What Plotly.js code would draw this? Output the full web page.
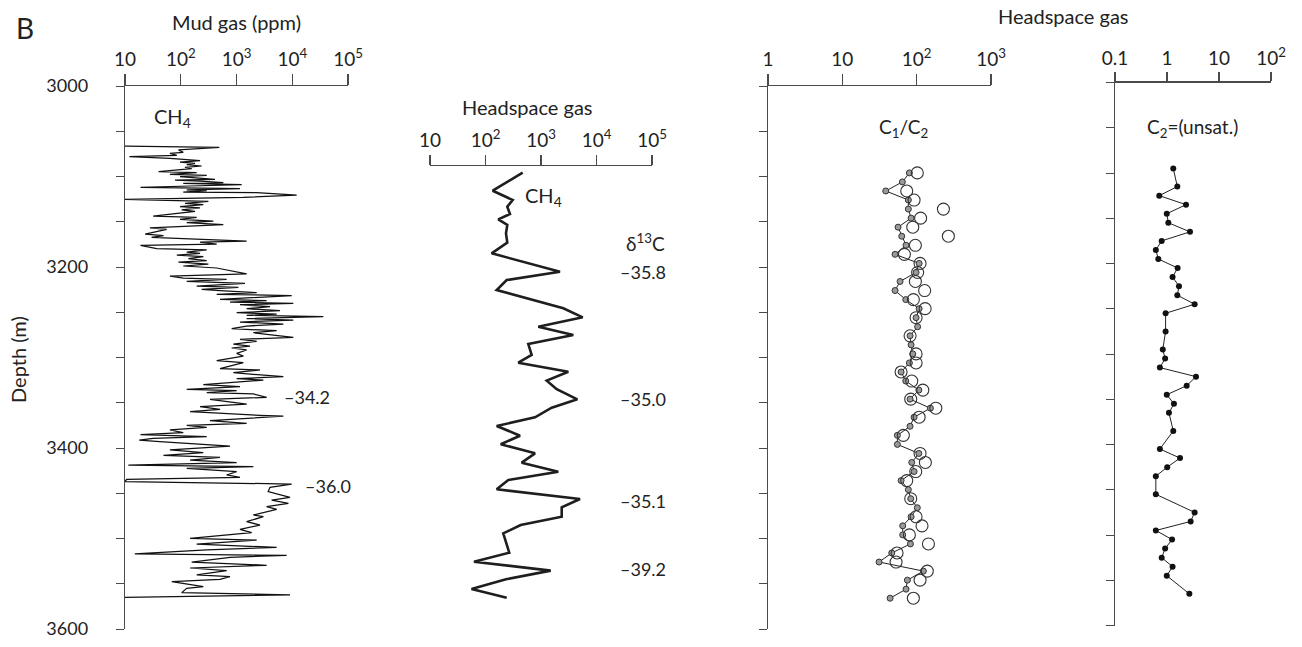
<!DOCTYPE html>
<html>
<head>
<meta charset="utf-8">
<script src="https://cdn.plot.ly/plotly-3.0.1.min.js"></script>
<style>html,body{margin:0;padding:0;background:#fff;}#chart{width:1302px;height:647px;}</style>
</head>
<body>
<div id="chart"></div>
<script>
// ---- Mud gas CH4 (ppm) vs depth (m) ----
const mudDepth = [3066.3,3067.8,3070.7,3073.3,3074.4,3076.6,3078.1,3079.9,3082.5,3084.0,3085.5,3086.9,3088.4,3089.9,3091.4,3094.7,3095.8,3097.6,3098.7,3100.2,3103.2,3103.9,3105.0,3106.8,3107.6,3109.1,3110.5,3112.0,3113.5,3114.9,3115.7,3117.2,3117.9,3120.5,3123.0,3125.3,
  3127.5,3129.7,3131.1,3133.4,3134.8,3137.0,3138.5,3140.0,3143.7,3145.1,3147.4,3149.2,3151.0,3153.2,3156.9,3158.4,3159.9,3163.6,3165.4,3167.2,3168.7,3171.3,3172.4,3174.6,3176.1,3179.8,3181.2,
  3183.5,3184.9,3186.8,3188.6,3190.8,3193.0,3194.5,3196.7,3198.9,3201.1,3204.1,3207.7,3210.0,3212.2,3213.6,3215.9,3218.1,3221.0,3222.5,3224.7,3226.2,3228.4,3230.2,
  3231.5,3235.7,3237.2,3238.7,3240.2,3241.6,3243.9,3246.1,3248.3,3250.5,3252.0,3253.4,3254.9,3257.1,3258.6,3260.8,3263.0,3265.2,3268.2,3270.4,3272.6,3275.2,3277.7,3279.9,3282.1,3285.1,3287.3,3289.5,3291.7,3295.4,
  3298.4,3303.5,3305.7,3312.4,3313.8,3316.8,3321.2,3323.4,3324.9,3330.0,3332.2,3335.2,3336.7,3338.9,3340.3,3344.0,3346.2,
  3351.4,3354.3,3357.3,3359.9,3363.9,3364.7,3369.8,3372.8,3375.0,3377.2,3380.1,3383.1,3385.3,3387.5,3389.3,3391.2,3393.0,3397.8,3402.2,3405.2,3408.1,3410.3,3413.3,3416.2,3418.8,3420.6,3422.5,3426.2,3429.8,3432.4,3434.6,3437.2,
  3439.8,3443.5,3448.2,3450.8,3454.5,3457.5,3461.1,3464.8,3467.8,3474.0,3475.9,3481.4,3485.1,3489.9,3493.6,3499.8,3501.7,3506.1,3509.8,3512.7,3517.1,3518.6,3520.8,3526.0,3529.6,3532.6,3535.5,3540.3,3542.2,3545.1,3547.7,3553.2,3555.1,3559.8,3562.4,3565.0];
const mudCH4 = [10,492,91,111,64,85,12,64,222,97,180,128,237,119,157,40,193,64,292,97,411,79,222,580,111,1239,147,19,1156,128,292,111,2300,12000,1327,9,
  313,119,254,97,222,104,180,111,32,193,97,384,128,580,28,56,42,23,49,30,111,1521,222,441,19,37,292,
  128,222,85,254,137,292,91,313,111,441,765,1521,64,111,666,128,1420,193,1079,237,506,2300,441,
  9770,506,3475,765,10450,1156,3990,1521,6030,1007,5260,1521,36100,1521,10450,1156,6920,1521,819,5260,2004,4580,10450,1156,2300,878,1746,819,1521,1007,
  1327,441,1327,506,2640,878,6920,1007,3030,254,1156,128,1007,292,2004,3475,335,
  1521,222,506,147,2640,6920,335,1521,128,292,64,111,19,292,32,18,42,765,64,254,49,506,147,1007,11.5,2004,128,1007,666,1156,10.7,10,
  9770,3990,3700,5260,9120,4270,8520,3475,5260,2004,3030,1521,2640,1156,1870,147,2300,193,5260,292,15,7940,765,157,3475,147,666,193,765,506,69,254,128,104,9120,10];

// ---- Headspace CH4 vs depth ----
const hsDepth = [3095.8,3115.7,3126.0,3133.4,3141.4,3147.3,3153.6,3162.8,3173.1,3184.9,3205.2,3214.4,3225.4,3245.6,3255.6,3266.0,3275.1,3285.1,3297.2,3305.7,3315.7,3325.6,3335.1,3346.2,3355.5,3366.1,3375.7,3386.4,3395.9,3405.9,3416.2,3426.2,3435.4,3445.6,3456.4,3465.5,3475.9,3485.1,3494.3,3515.7,3525.6,3535.5,3545.1,3555.8,3565.4];
const hsCH4 = [468,135,309,247,276,170,247,234,247,129,2198,241,159,2523,5640,893,3819,590,679,390,3105,1268,1920,4510,1560,780,159,419,188,780,449,2051,258,159,5050,2360,2360,430,209,268,62,1496,234,56,241];

// ---- Headspace C1/C2 ----
const ratioDepth = [3096,3106,3116,3126,3136,3146,3156,3166,3176,3186,3196,3206,3216,3226,3236,3246,3256,3266,3276,3286,3296,3306,3316,3326,3336,3346,3356,3366,3376,3386,3396,3406,3416,3426,3436,3446,3456,3466,3476,3486,3496,3506,3516,3526,3536,3546,3556,3566];
const c1c2Small = [79.8,64.2,38.4,77.3,77.3,84.1,56.2,63.0,72.0,51.2,108,98.2,59.8,51.2,71.3,108,98.2,103,81.5,84.1,88.6,79.8,61.7,71.3,107,81.5,153,92.3,81.5,55.0,55.0,107,85.9,92.3,61.7,77.3,83.2,102,84.1,64.9,64.9,82.4,46.2,31.2,123,75.0,72.0,43.9];
const c1c2Large = [102,null,73.5,92.3,229,113,88.6,267,96.1,68.4,111,103,96.1,128,90.3,130,98.2,null,81.5,null,98.2,98.2,61.7,85.9,121,83.2,181,108,null,66.2,null,111,131,97.2,73.5,null,83.2,null,98.2,118,79.8,144,54.5,52.8,139,111,null,90.3];

// ---- Headspace C2= (unsaturated) ----
const unsatDepth = [3095,3115,3125,3135,3145,3155,3165,3175,3185,3195,3205,3215,3225,3235,3245,3255,3275,3295,3305,3315,3325,3335,3345,3355,3365,3385,3405,3415,3425,3435,3455,3475,3485,3495,3505,3515,3525,3535,3545,3565];
const c2Unsat = [1.32,1.58,0.71,2.32,0.99,1.06,2.77,0.79,0.61,0.68,1.60,1.28,1.70,1.58,3.40,0.94,0.94,0.83,0.92,0.73,3.61,2.39,0.99,1.36,1.09,1.32,0.73,1.78,1.01,0.61,0.61,3.40,2.85,0.61,1.25,0.92,0.79,1.28,0.99,2.69];

// ---- Tick labels ----
const gasTickVals = [10,100,1000,10000,100000];
const gasTickText = ['10','10<sup>2</sup>','10<sup>3</sup>','10<sup>4</sup>','10<sup>5</sup>'];
const ratioTickVals = [1,10,100,1000];
const ratioTickText = ['1','10','10<sup>2</sup>','10<sup>3</sup>'];
const unsatTickVals = [0.1,1,10,100];
const unsatTickText = ['0.1','1','10','10<sup>2</sup>'];
const depthTickVals = [3000,3200,3400,3600];

// ---- δ13C labels ----
const mudD13C = [{v:'–34.2', depth:3343.6}, {v:'–36.0', depth:3441.5}];
const hsD13C = [{v:'–35.8', depth:3205.5}, {v:'–35.0', depth:3345.9}, {v:'–35.1', depth:3458.6}, {v:'–39.2', depth:3533.7}];

const W = 1302, H = 647;
const px = v => v / W;
const py = v => 1 - v / H;
const axCol = '#4a4a4a';
const txtCol = '#222';
const FONT = 'Lato, "Open Sans", sans-serif';

const depthDomain = [py(629), py(86)];
const xCommon = {side:'top', type:'log', showline:true, linecolor:axCol, linewidth:1.3, ticks:'outside',
  ticklen:11, tickcolor:axCol, tickwidth:1.3, showgrid:false, zeroline:false, fixedrange:true,
  tickfont:{size:19, color:txtCol, family:FONT}, ticklabelstandoff:0};
const yCommon = {range:[3600,3000], showline:true, linecolor:axCol, linewidth:1.3, showgrid:false, zeroline:false,
  ticks:'outside', ticklen:8, tickcolor:axCol, tickwidth:1, fixedrange:true};

const traces = [
  {x: mudCH4, y: mudDepth, xaxis:'x', yaxis:'y', mode:'lines', line:{color:'#111', width:1.25}, hoverinfo:'skip'},
  {x: hsCH4, y: hsDepth, xaxis:'x2', yaxis:'y2', mode:'lines', line:{color:'#1e1e1e', width:2.6}, hoverinfo:'skip'},
  {x: c1c2Small, y: ratioDepth, xaxis:'x3', yaxis:'y3', mode:'lines+markers', line:{color:'#222', width:1},
   marker:{size:6, color:'#9a9a9a', line:{color:'#333', width:1}}, hoverinfo:'skip'},
  {x: c1c2Large, y: ratioDepth, xaxis:'x3', yaxis:'y3', mode:'markers',
   marker:{size:12, symbol:'circle-open', color:'#333', line:{width:1.1}}, hoverinfo:'skip'},
  {x: c2Unsat, y: unsatDepth, xaxis:'x4', yaxis:'y4', mode:'lines+markers', line:{color:'#222', width:1},
   marker:{size:6, color:'#111'}, hoverinfo:'skip'}
];

function note(text, x, y, size, extra) {
  return Object.assign({text:text, x:px(x), y:py(y), xref:'paper', yref:'paper', xanchor:'center', yanchor:'middle',
    showarrow:false, font:{size:size, family:FONT, color:txtCol}}, extra || {});
}
const annotations = [
  note('B', 25, 28, 28),
  note('Mud gas (ppm)', 236, 22, 20),
  note('Headspace gas', 527, 107, 20),
  note('Headspace gas', 1063, 16, 20),
  note('Depth (m)', 18, 360, 20, {textangle:-90}),
  note('CH<sub>4</sub>', 172, 117, 20),
  note('CH<sub>4</sub>', 543, 196, 20),
  note('δ<sup>13</sup>C', 667, 242, 19, {xanchor:'right'}),
  note('C<sub>1</sub>/C<sub>2</sub>', 903, 128, 19),
  note('C<sub>2</sub>=(unsat.)', 1192, 128, 19)
];
mudD13C.forEach((d, i) => annotations.push({text:d.v, x:px(i === 0 ? 282 : 303), y:d.depth, xref:'paper', yref:'y',
  xanchor:'left', yanchor:'middle', showarrow:false, font:{size:18, family:FONT, color:txtCol}}));
hsD13C.forEach(d => annotations.push({text:d.v, x:px(668), y:d.depth, xref:'paper', yref:'y',
  xanchor:'right', yanchor:'middle', showarrow:false, font:{size:18, family:FONT, color:txtCol}}));

const layout = {
  width: W, height: H, margin:{l:0, r:0, t:0, b:0}, paper_bgcolor:'#fff', plot_bgcolor:'rgba(0,0,0,0)',
  showlegend:false, font:{family:FONT, size:18, color:txtCol},
  xaxis: Object.assign({}, xCommon, {domain:[px(125), px(348)], range:[1,5], anchor:'y', tickvals:gasTickVals, ticktext:gasTickText}),
  yaxis: Object.assign({}, yCommon, {domain:depthDomain, anchor:'x', tickvals:depthTickVals, ticklabelstandoff:24,
    tickfont:{size:18, color:txtCol, family:FONT},
    minor:{dtick:50, tick0:3000, ticks:'outside', ticklen:8, tickcolor:axCol, tickwidth:1}}),
  xaxis2: Object.assign({}, xCommon, {domain:[px(430), px(652)], range:[1,5], anchor:'free', position:py(165),
    ticklen:10, tickvals:gasTickVals, ticktext:gasTickText}),
  yaxis2: {domain:depthDomain, range:[3600,3000], anchor:'x2', visible:false, fixedrange:true},
  xaxis3: Object.assign({}, xCommon, {domain:[px(768), px(991)], range:[0,3], anchor:'y3', tickvals:ratioTickVals, ticktext:ratioTickText}),
  yaxis3: Object.assign({}, yCommon, {domain:depthDomain, anchor:'x3', tick0:3000, dtick:50, showticklabels:false}),
  xaxis4: Object.assign({}, xCommon, {domain:[px(1115), px(1271)], range:[-1,2], anchor:'y4', ticklen:9, tickvals:unsatTickVals, ticktext:unsatTickText}),
  yaxis4: Object.assign({}, yCommon, {domain:[py(625.5), py(82.5)], anchor:'x4', tick0:3000, dtick:50, showticklabels:false}),
  annotations: annotations
};

Plotly.newPlot('chart', traces, layout, {staticPlot:true, displayModeBar:false});
</script>
</body>
</html>
